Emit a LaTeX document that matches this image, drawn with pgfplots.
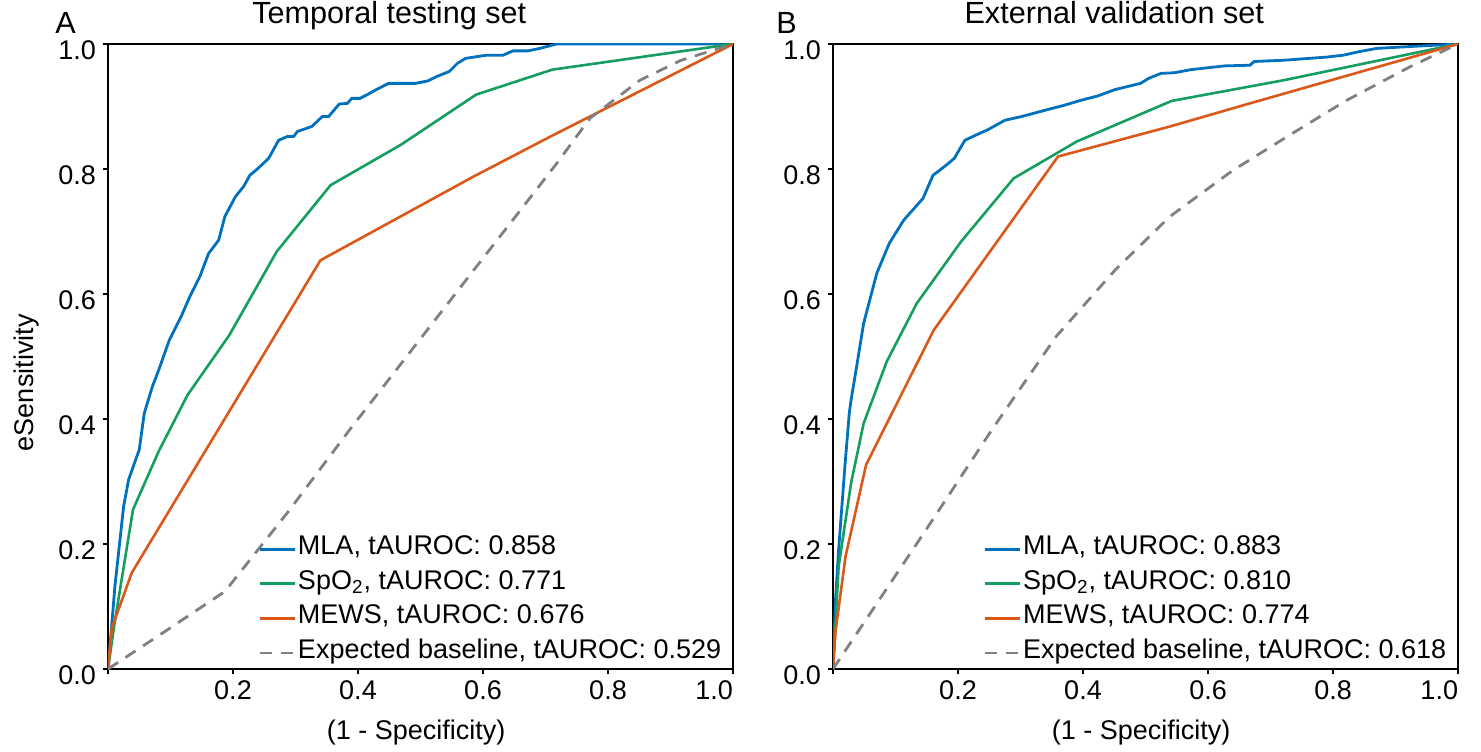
\documentclass[border=0pt]{standalone}
\usepackage{fontspec}
\setmainfont{Liberation Sans}
\usepackage{pgfplots}
\pgfplotsset{compat=1.18}
\definecolor{mlablue}{RGB}{0,114,189}
\definecolor{spgreen}{RGB}{20,158,95}
\definecolor{mewsorange}{RGB}{220,88,25}
\definecolor{basegray}{RGB}{128,128,128}
\pgfplotsset{
 rocaxis/.style={
  scale only axis, width=312.5pt, height=312.5pt,
  xmin=0,xmax=1,ymin=0,ymax=1,
  font=\fontsize{13.5}{16}\selectfont,
  /pgf/number format/assume math mode=true,
  xtick={0,0.2,0.4,0.6,0.8,1},
  xticklabels={,0.2,0.4,0.6,0.8,\makebox[0pt][r]{1.0}},
  ytick={0,0.2,0.4,0.6,0.8,1},
  yticklabels={0.0,0.2,0.4,0.6,0.8,1.0},
  tick align=outside, tick pos=left, major tick length=2.5pt,
  axis line style={line width=0.6pt},
  every tick/.style={black, line width=0.6pt},
  yticklabel style={yshift=-3pt},
  xlabel={(1 - Specificity)},
  xlabel style={at={(axis description cs:0.493,0)}, anchor=center, yshift=-32pt},
  title style={at={(axis description cs:0.45,1)}, anchor=base, yshift=4.5pt, inner sep=0pt, font=\fontsize{15.3}{18}\selectfont},
  legend cell align=left,
  legend style={draw=none, fill=none, at={(0.985,0)}, anchor=south east, yshift=-0.8pt,
    font=\fontsize{13.5}{16}\selectfont, row sep=0pt, inner sep=0pt,
    nodes={inner sep=1pt, text height=10.3pt, text depth=5pt}},
  legend image code/.code={\draw[#1] (0pt,0pt) -- (17.5pt,0pt);},
 },
 mla/.style={mlablue, line width=1.4pt},
 spo/.style={spgreen, line width=1.3pt},
 mews/.style={mewsorange, line width=1.3pt},
 base/.style={basegray, line width=1.4pt, dash pattern=on 6pt off 4.5pt},
}
\begin{document}
\begin{tikzpicture}
\path[use as bounding box] (-54pt,-41pt) rectangle (686.5pt,334.5pt);
\begin{axis}[rocaxis, name=A, at={(0pt,0pt)}, anchor=south west,
  title={Temporal testing set},
  ylabel={eSensitivity},
  ylabel style={at={(axis description cs:-0.131,0.458)}, anchor=center}]
\addplot[mla] coordinates {(0,0) (0.005,0.058) (0.011,0.132) (0.018,0.196) (0.025,0.260) (0.033,0.303) (0.050,0.351) (0.058,0.409) (0.071,0.452) (0.081,0.478) (0.098,0.526) (0.117,0.564) (0.131,0.596) (0.147,0.628) (0.161,0.665) (0.177,0.686) (0.187,0.724) (0.204,0.756) (0.217,0.772) (0.227,0.790) (0.240,0.801) (0.257,0.817) (0.273,0.846) (0.287,0.852) (0.297,0.852) (0.303,0.860) (0.326,0.868) (0.343,0.884) (0.353,0.884) (0.370,0.904) (0.383,0.905) (0.390,0.913) (0.403,0.913) (0.413,0.918) (0.433,0.929) (0.449,0.937) (0.492,0.937) (0.512,0.941) (0.526,0.948) (0.546,0.956) (0.559,0.969) (0.572,0.977) (0.585,0.979) (0.605,0.982) (0.632,0.982) (0.648,0.989) (0.672,0.989) (0.691,0.993) (0.718,1.0) (1,1)};
\addlegendentry{MLA, tAUROC: 0.858}
\addplot[spo] coordinates {(0,0) (0.010,0.070) (0.040,0.255) (0.081,0.348) (0.127,0.438) (0.194,0.534) (0.270,0.668) (0.356,0.774) (0.469,0.839) (0.589,0.919) (0.711,0.959) (1,1)};
\addlegendentry{SpO\textsubscript{2}, tAUROC: 0.771}
\addplot[mews] coordinates {(0,0) (0.006,0.065) (0.038,0.154) (0.340,0.654) (0.585,0.788) (0.708,0.852) (1,1)};
\addlegendentry{MEWS, tAUROC: 0.676}
\addplot[base] coordinates {(0,0) (0.088,0.058) (0.187,0.124) (0.287,0.250) (0.386,0.382) (0.453,0.468) (0.519,0.553) (0.585,0.638) (0.652,0.724) (0.718,0.809) (0.771,0.881) (0.851,0.942) (0.917,0.974) (1,1)};
\addlegendentry{Expected baseline, tAUROC: 0.529}
\end{axis}
\node[anchor=base west, inner sep=0pt, font=\fontsize{15.3}{18}\selectfont] at ([xshift=-26.5pt,yshift=5pt]A.north west) {A};
\begin{axis}[rocaxis, name=B, at={(362.5pt,0pt)}, anchor=south west,
  title={External validation set}]
\addplot[mla] coordinates {(0,0) (0.004,0.111) (0.009,0.191) (0.019,0.324) (0.026,0.409) (0.029,0.431) (0.036,0.473) (0.049,0.553) (0.070,0.633) (0.090,0.681) (0.113,0.718) (0.144,0.753) (0.160,0.790) (0.181,0.806) (0.194,0.817) (0.211,0.846) (0.228,0.854) (0.248,0.863) (0.275,0.878) (0.302,0.884) (0.343,0.895) (0.370,0.902) (0.397,0.910) (0.424,0.917) (0.451,0.927) (0.492,0.937) (0.505,0.945) (0.525,0.953) (0.546,0.954) (0.573,0.959) (0.627,0.965) (0.667,0.966) (0.674,0.972) (0.721,0.974) (0.789,0.979) (0.816,0.982) (0.843,0.988) (0.870,0.993) (0.924,0.996) (1,1)};
\addlegendentry{MLA, tAUROC: 0.883}
\addplot[spo] coordinates {(0,0) (0.009,0.164) (0.029,0.298) (0.049,0.393) (0.086,0.492) (0.134,0.585) (0.205,0.684) (0.289,0.785) (0.390,0.844) (0.542,0.909) (0.721,0.942) (1,1)};
\addlegendentry{SpO\textsubscript{2}, tAUROC: 0.810}
\addplot[mews] coordinates {(0,0) (0.004,0.060) (0.020,0.180) (0.053,0.327) (0.161,0.542) (0.360,0.820) (0.539,0.868) (0.667,0.905) (1,1)};
\addlegendentry{MEWS, tAUROC: 0.774}
\addplot[base] coordinates {(0,0) (0.147,0.220) (0.255,0.384) (0.357,0.532) (0.451,0.638) (0.539,0.724) (0.640,0.798) (0.735,0.857) (0.822,0.910) (0.924,0.964) (1,1)};
\addlegendentry{Expected baseline, tAUROC: 0.618}
\end{axis}
\node[anchor=base west, inner sep=0pt, font=\fontsize{15.3}{18}\selectfont] at ([xshift=-28.5pt,yshift=5pt]B.north west) {B};
\end{tikzpicture}
\end{document}
